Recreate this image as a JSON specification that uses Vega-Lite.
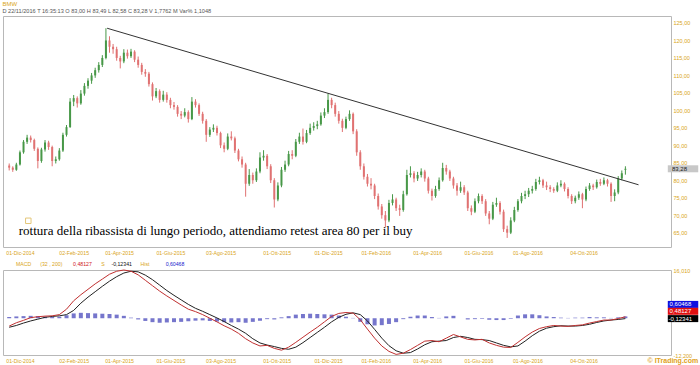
{
"$schema":"https://vega.github.io/schema/vega-lite/v6.json",
"background":"white",
"padding":{"left":2,"top":0,"right":0,"bottom":0},
"title":{"text":"BMW","subtitle":"D 22/11/2016   T 16:35:13   O 83,00   H 83,49   L 82,58   C 83,28   V 1,7762 M   Var% 1,1048","anchor":"start","fontSize":6,"fontWeight":"normal","font":"Liberation Sans","color":"#d9a520","subtitleFont":"Liberation Sans","subtitleFontSize":5.6,"subtitleColor":"#555555","subtitlePadding":2,"offset":1},
"spacing":5,
"datasets":{
"p":[
{"t":0,"o":84.2,"h":84.8,"l":82.8,"c":83.6},{"t":3,"o":83.6,"h":84.0,"l":82.4,"c":83.0},{"t":6,"o":83.0,"h":85.0,"l":82.7,"c":84.5},{"t":9,"o":84.5,"h":88.5,"l":84.2,"c":88.0},{"t":12,"o":88.0,"h":91.5,"l":87.6,"c":91.0},{"t":15,"o":91.0,"h":93.0,"l":90.4,"c":92.2},{"t":18,"o":92.2,"h":92.8,"l":90.8,"c":91.5},{"t":21,"o":91.5,"h":91.9,"l":88.4,"c":89.0},{"t":24,"o":89.0,"h":89.4,"l":83.4,"c":85.5},{"t":27,"o":85.5,"h":89.3,"l":85.0,"c":88.8},
{"t":30,"o":88.8,"h":91.5,"l":88.2,"c":90.8},{"t":33,"o":90.8,"h":91.3,"l":88.7,"c":89.5},{"t":36,"o":89.5,"h":89.9,"l":84.0,"c":85.5},{"t":39,"o":85.5,"h":86.8,"l":84.8,"c":86.0},{"t":42,"o":86.0,"h":89.2,"l":85.6,"c":88.5},{"t":45,"o":88.5,"h":93.6,"l":88.1,"c":93.0},{"t":48,"o":93.0,"h":95.8,"l":92.5,"c":95.2},{"t":51,"o":95.2,"h":103.5,"l":95.0,"c":102.5},{"t":54,"o":102.5,"h":104.4,"l":101.2,"c":103.5},{"t":57,"o":103.5,"h":104.0,"l":100.8,"c":102.0},
{"t":60,"o":102.0,"h":105.8,"l":101.6,"c":104.8},{"t":63,"o":104.8,"h":107.8,"l":104.2,"c":107.0},{"t":66,"o":107.0,"h":109.2,"l":106.2,"c":108.5},{"t":69,"o":108.5,"h":110.7,"l":107.6,"c":110.0},{"t":72,"o":110.0,"h":112.2,"l":109.3,"c":111.5},{"t":75,"o":111.5,"h":113.8,"l":110.8,"c":113.0},{"t":78,"o":113.0,"h":115.8,"l":112.4,"c":115.0},{"t":81,"o":115.0,"h":123.5,"l":114.6,"c":120.0},{"t":84,"o":120.0,"h":121.2,"l":116.5,"c":118.2},{"t":87,"o":118.2,"h":119.0,"l":116.2,"c":117.5},
{"t":90,"o":117.5,"h":118.2,"l":114.2,"c":115.0},{"t":93,"o":115.0,"h":115.6,"l":112.0,"c":114.0},{"t":96,"o":114.0,"h":117.5,"l":113.5,"c":116.5},{"t":99,"o":116.5,"h":117.4,"l":114.8,"c":115.5},{"t":102,"o":115.5,"h":117.6,"l":115.0,"c":116.8},{"t":105,"o":116.8,"h":117.2,"l":113.8,"c":114.5},{"t":108,"o":114.5,"h":115.4,"l":112.2,"c":113.0},{"t":111,"o":113.0,"h":113.6,"l":110.2,"c":111.0},{"t":114,"o":111.0,"h":111.8,"l":109.6,"c":110.5},{"t":117,"o":110.5,"h":111.0,"l":106.8,"c":107.5},
{"t":120,"o":107.5,"h":108.0,"l":102.8,"c":104.0},{"t":123,"o":104.0,"h":106.4,"l":103.5,"c":105.5},{"t":126,"o":105.5,"h":106.0,"l":102.2,"c":103.0},{"t":129,"o":103.0,"h":105.6,"l":102.5,"c":104.5},{"t":132,"o":104.5,"h":105.2,"l":102.2,"c":103.0},{"t":135,"o":103.0,"h":103.6,"l":100.6,"c":101.5},{"t":138,"o":101.5,"h":102.4,"l":100.2,"c":101.0},{"t":141,"o":101.0,"h":101.5,"l":98.2,"c":99.0},{"t":144,"o":99.0,"h":99.8,"l":97.5,"c":98.5},{"t":147,"o":98.5,"h":100.6,"l":98.0,"c":99.5},
{"t":150,"o":99.5,"h":100.0,"l":96.5,"c":97.5},{"t":153,"o":97.5,"h":103.8,"l":97.2,"c":102.5},{"t":156,"o":102.5,"h":103.2,"l":100.8,"c":101.5},{"t":159,"o":101.5,"h":102.0,"l":98.4,"c":99.0},{"t":162,"o":99.0,"h":99.6,"l":96.2,"c":97.0},{"t":165,"o":97.0,"h":97.5,"l":91.0,"c":93.0},{"t":168,"o":93.0,"h":95.2,"l":92.4,"c":94.5},{"t":171,"o":94.5,"h":96.0,"l":93.8,"c":95.0},{"t":174,"o":95.0,"h":95.6,"l":92.8,"c":93.5},{"t":177,"o":93.5,"h":93.9,"l":89.2,"c":90.0},
{"t":180,"o":90.0,"h":90.8,"l":88.0,"c":89.0},{"t":183,"o":89.0,"h":93.4,"l":88.6,"c":92.5},{"t":186,"o":92.5,"h":94.0,"l":91.4,"c":92.0},{"t":189,"o":92.0,"h":92.5,"l":87.8,"c":88.5},{"t":192,"o":88.5,"h":89.0,"l":85.4,"c":86.0},{"t":195,"o":86.0,"h":86.8,"l":83.6,"c":84.5},{"t":198,"o":84.5,"h":85.0,"l":75.3,"c":79.0},{"t":201,"o":79.0,"h":83.2,"l":78.4,"c":81.5},{"t":204,"o":81.5,"h":82.2,"l":79.0,"c":80.0},{"t":207,"o":80.0,"h":83.4,"l":79.5,"c":82.5},
{"t":210,"o":82.5,"h":88.0,"l":82.0,"c":86.5},{"t":213,"o":86.5,"h":88.6,"l":85.6,"c":87.0},{"t":216,"o":87.0,"h":87.5,"l":83.2,"c":84.0},{"t":219,"o":84.0,"h":84.6,"l":79.2,"c":80.0},{"t":222,"o":80.0,"h":80.6,"l":72.2,"c":74.5},{"t":225,"o":74.5,"h":79.4,"l":74.0,"c":78.5},{"t":228,"o":78.5,"h":83.8,"l":78.0,"c":83.0},{"t":231,"o":83.0,"h":85.6,"l":82.4,"c":84.5},{"t":234,"o":84.5,"h":88.4,"l":84.0,"c":87.5},{"t":237,"o":87.5,"h":88.6,"l":86.0,"c":87.0},
{"t":240,"o":87.0,"h":91.8,"l":86.6,"c":91.0},{"t":243,"o":91.0,"h":93.6,"l":90.4,"c":92.5},{"t":246,"o":92.5,"h":94.8,"l":90.2,"c":91.0},{"t":249,"o":91.0,"h":94.4,"l":90.6,"c":93.5},{"t":252,"o":93.5,"h":96.2,"l":93.0,"c":95.0},{"t":255,"o":95.0,"h":96.6,"l":94.2,"c":95.5},{"t":258,"o":95.5,"h":97.0,"l":94.6,"c":96.0},{"t":261,"o":96.0,"h":99.4,"l":95.6,"c":98.5},{"t":264,"o":98.5,"h":100.6,"l":97.8,"c":99.5},{"t":267,"o":99.5,"h":104.8,"l":99.0,"c":103.0},
{"t":270,"o":103.0,"h":103.6,"l":100.6,"c":101.5},{"t":273,"o":101.5,"h":102.2,"l":98.2,"c":99.0},{"t":276,"o":99.0,"h":99.8,"l":96.2,"c":97.0},{"t":279,"o":97.0,"h":97.6,"l":93.8,"c":95.0},{"t":282,"o":95.0,"h":98.2,"l":94.6,"c":97.5},{"t":285,"o":97.5,"h":100.0,"l":97.0,"c":99.0},{"t":288,"o":99.0,"h":99.4,"l":93.2,"c":94.0},{"t":291,"o":94.0,"h":94.6,"l":87.0,"c":88.0},{"t":294,"o":88.0,"h":88.6,"l":83.0,"c":84.0},{"t":297,"o":84.0,"h":84.8,"l":80.2,"c":81.0},
{"t":300,"o":81.0,"h":81.8,"l":78.2,"c":79.0},{"t":303,"o":79.0,"h":80.6,"l":77.4,"c":78.5},{"t":306,"o":78.5,"h":79.0,"l":74.6,"c":75.5},{"t":309,"o":75.5,"h":76.2,"l":71.6,"c":72.5},{"t":312,"o":72.5,"h":73.2,"l":69.0,"c":70.0},{"t":315,"o":70.0,"h":71.2,"l":66.5,"c":68.5},{"t":318,"o":68.5,"h":74.4,"l":68.0,"c":73.5},{"t":321,"o":73.5,"h":76.0,"l":72.8,"c":74.5},{"t":324,"o":74.5,"h":75.0,"l":71.2,"c":72.0},{"t":327,"o":72.0,"h":73.0,"l":69.8,"c":71.5},
{"t":330,"o":71.5,"h":77.0,"l":71.0,"c":76.0},{"t":333,"o":76.0,"h":83.0,"l":75.6,"c":81.5},{"t":336,"o":81.5,"h":84.0,"l":80.8,"c":82.0},{"t":339,"o":82.0,"h":82.6,"l":79.4,"c":80.5},{"t":342,"o":80.5,"h":82.4,"l":79.8,"c":81.5},{"t":345,"o":81.5,"h":83.4,"l":80.8,"c":82.5},{"t":348,"o":82.5,"h":83.0,"l":79.6,"c":80.5},{"t":351,"o":80.5,"h":81.0,"l":76.2,"c":77.0},{"t":354,"o":77.0,"h":77.6,"l":74.2,"c":75.5},{"t":357,"o":75.5,"h":78.4,"l":75.0,"c":77.5},
{"t":360,"o":77.5,"h":80.8,"l":77.0,"c":80.0},{"t":363,"o":80.0,"h":85.0,"l":79.6,"c":83.5},{"t":366,"o":83.5,"h":84.4,"l":81.6,"c":82.5},{"t":369,"o":82.5,"h":83.0,"l":79.8,"c":80.5},{"t":372,"o":80.5,"h":81.0,"l":77.6,"c":78.5},{"t":375,"o":78.5,"h":79.2,"l":75.6,"c":77.0},{"t":378,"o":77.0,"h":79.6,"l":76.4,"c":78.0},{"t":381,"o":78.0,"h":78.6,"l":75.8,"c":76.5},{"t":384,"o":76.5,"h":77.0,"l":71.2,"c":72.0},{"t":387,"o":72.0,"h":72.8,"l":70.0,"c":71.0},
{"t":390,"o":71.0,"h":74.8,"l":70.6,"c":74.0},{"t":393,"o":74.0,"h":76.2,"l":73.4,"c":75.5},{"t":396,"o":75.5,"h":76.0,"l":73.2,"c":74.0},{"t":399,"o":74.0,"h":74.6,"l":69.8,"c":70.5},{"t":402,"o":70.5,"h":71.2,"l":67.4,"c":69.0},{"t":405,"o":69.0,"h":73.8,"l":68.6,"c":73.0},{"t":408,"o":73.0,"h":75.0,"l":72.4,"c":73.5},{"t":411,"o":73.5,"h":74.0,"l":70.2,"c":71.0},{"t":414,"o":71.0,"h":71.6,"l":65.2,"c":66.0},{"t":417,"o":66.0,"h":67.0,"l":63.5,"c":65.0},
{"t":420,"o":65.0,"h":69.4,"l":64.6,"c":68.5},{"t":423,"o":68.5,"h":72.4,"l":68.0,"c":71.5},{"t":426,"o":71.5,"h":74.6,"l":71.0,"c":74.0},{"t":429,"o":74.0,"h":76.4,"l":73.4,"c":75.5},{"t":432,"o":75.5,"h":77.0,"l":74.6,"c":76.0},{"t":435,"o":76.0,"h":77.8,"l":75.2,"c":77.0},{"t":438,"o":77.0,"h":78.4,"l":76.2,"c":77.5},{"t":441,"o":77.5,"h":80.4,"l":77.0,"c":79.5},{"t":444,"o":79.5,"h":81.0,"l":78.8,"c":80.0},{"t":447,"o":80.0,"h":80.4,"l":77.8,"c":78.5},
{"t":450,"o":78.5,"h":79.6,"l":77.2,"c":78.0},{"t":453,"o":78.0,"h":78.6,"l":76.6,"c":77.5},{"t":456,"o":77.5,"h":78.0,"l":76.4,"c":77.0},{"t":459,"o":77.0,"h":79.4,"l":76.6,"c":78.5},{"t":462,"o":78.5,"h":80.0,"l":78.0,"c":79.0},{"t":465,"o":79.0,"h":79.4,"l":76.8,"c":77.5},{"t":468,"o":77.5,"h":78.0,"l":74.8,"c":75.5},{"t":471,"o":75.5,"h":76.0,"l":73.2,"c":74.0},{"t":474,"o":74.0,"h":75.6,"l":73.4,"c":75.0},{"t":477,"o":75.0,"h":76.8,"l":74.4,"c":76.0},
{"t":480,"o":76.0,"h":76.4,"l":72.0,"c":74.5},{"t":483,"o":74.5,"h":78.2,"l":74.0,"c":77.5},{"t":486,"o":77.5,"h":79.2,"l":77.0,"c":78.5},{"t":489,"o":78.5,"h":79.0,"l":77.2,"c":78.0},{"t":492,"o":78.0,"h":80.2,"l":77.6,"c":79.5},{"t":495,"o":79.5,"h":80.4,"l":78.4,"c":79.0},{"t":498,"o":79.0,"h":80.8,"l":78.6,"c":80.0},{"t":501,"o":80.0,"h":80.4,"l":78.2,"c":79.0},{"t":504,"o":79.0,"h":79.4,"l":73.8,"c":75.5},{"t":507,"o":75.5,"h":77.4,"l":74.0,"c":76.5},
{"t":510,"o":76.5,"h":81.2,"l":76.0,"c":80.5},{"t":513,"o":80.5,"h":82.8,"l":80.0,"c":82.0},{"t":516,"o":83.0,"h":84.0,"l":81.6,"c":83.28}
],
"m":[
{"t":0,"m":-2.6,"s":-3.0,"h":0.4},{"t":6,"m":-1.5,"s":-2.4,"h":0.6},{"t":12,"m":-0.7,"s":-1.6,"h":0.7},{"t":18,"m":0.2,"s":-0.9,"h":0.8},{"t":24,"m":0.5,"s":-0.3,"h":0.7},{"t":30,"m":0.7,"s":0.3,"h":0.5},{"t":36,"m":0.8,"s":0.6,"h":0.4},{"t":42,"m":1.2,"s":0.8,"h":0.5},{"t":48,"m":3.0,"s":1.2,"h":1.0},{"t":54,"m":5.8,"s":2.6,"h":1.6},
{"t":60,"m":7.8,"s":5.0,"h":1.8},{"t":66,"m":9.6,"s":7.0,"h":1.7},{"t":72,"m":11.4,"s":8.8,"h":1.6},{"t":78,"m":13.0,"s":10.6,"h":1.5},{"t":84,"m":14.6,"s":12.3,"h":1.4},{"t":90,"m":15.6,"s":13.8,"h":1.2},{"t":96,"m":16.0,"s":15.0,"h":0.8},{"t":102,"m":15.6,"s":15.6,"h":0.2},{"t":108,"m":14.4,"s":15.4,"h":-0.4},{"t":114,"m":12.6,"s":14.3,"h":-0.9},
{"t":120,"m":10.8,"s":12.8,"h":-1.3},{"t":126,"m":9.0,"s":11.0,"h":-1.5},{"t":132,"m":7.4,"s":9.2,"h":-1.4},{"t":138,"m":5.9,"s":7.6,"h":-1.3},{"t":144,"m":4.4,"s":6.1,"h":-1.2},{"t":150,"m":3.0,"s":4.6,"h":-1.0},{"t":156,"m":2.2,"s":3.3,"h":-0.8},{"t":162,"m":1.2,"s":2.3,"h":-0.7},{"t":168,"m":0.0,"s":1.2,"h":-0.9},{"t":174,"m":-1.2,"s":0.1,"h":-1.1},
{"t":180,"m":-2.5,"s":-1.1,"h":-1.3},{"t":186,"m":-3.6,"s":-2.4,"h":-1.4},{"t":192,"m":-5.0,"s":-3.6,"h":-1.3},{"t":198,"m":-6.8,"s":-5.0,"h":-1.5},{"t":204,"m":-8.2,"s":-6.8,"h":-1.2},{"t":210,"m":-9.2,"s":-8.2,"h":-0.8},{"t":216,"m":-9.0,"s":-8.9,"h":-0.3},{"t":222,"m":-10.0,"s":-9.4,"h":-0.4},{"t":228,"m":-10.6,"s":-10.0,"h":0.3},{"t":234,"m":-9.6,"s":-10.3,"h":0.7},
{"t":240,"m":-8.0,"s":-9.6,"h":1.2},{"t":246,"m":-6.3,"s":-8.1,"h":1.4},{"t":252,"m":-4.6,"s":-6.4,"h":1.5},{"t":258,"m":-3.0,"s":-4.7,"h":1.4},{"t":264,"m":-1.2,"s":-3.0,"h":1.3},{"t":270,"m":0.6,"s":-1.2,"h":1.2},{"t":276,"m":1.6,"s":0.3,"h":0.9},{"t":282,"m":1.9,"s":1.3,"h":0.5},{"t":288,"m":1.7,"s":1.8,"h":0.1},{"t":294,"m":-0.5,"s":1.2,"h":-1.2},
{"t":300,"m":-3.6,"s":-0.9,"h":-2.0},{"t":306,"m":-6.6,"s":-3.7,"h":-2.4},{"t":312,"m":-9.2,"s":-6.6,"h":-2.3},{"t":318,"m":-11.0,"s":-9.1,"h":-1.9},{"t":324,"m":-12.0,"s":-10.8,"h":-1.3},{"t":330,"m":-11.6,"s":-11.6,"h":-0.3},{"t":336,"m":-10.4,"s":-11.4,"h":0.5},{"t":342,"m":-9.0,"s":-10.2,"h":0.9},{"t":348,"m":-7.6,"s":-8.8,"h":0.9},{"t":354,"m":-7.4,"s":-7.8,"h":0.4},
{"t":360,"m":-7.8,"s":-7.6,"h":0.1},{"t":366,"m":-6.6,"s":-7.4,"h":0.6},{"t":372,"m":-5.4,"s":-6.4,"h":0.8},{"t":378,"m":-6.2,"s":-6.0,"h":0.0},{"t":384,"m":-7.0,"s":-6.4,"h":-0.4},{"t":390,"m":-7.2,"s":-7.0,"h":-0.3},{"t":396,"m":-7.0,"s":-7.1,"h":-0.2},{"t":402,"m":-8.2,"s":-7.4,"h":-0.5},{"t":408,"m":-9.0,"s":-8.2,"h":-0.6},{"t":414,"m":-9.6,"s":-9.0,"h":-0.6},
{"t":420,"m":-9.7,"s":-9.5,"h":-0.2},{"t":426,"m":-8.0,"s":-9.2,"h":0.9},{"t":432,"m":-6.2,"s":-7.6,"h":1.3},{"t":438,"m":-4.6,"s":-5.8,"h":1.3},{"t":444,"m":-3.4,"s":-4.3,"h":1.0},{"t":450,"m":-2.8,"s":-3.3,"h":0.6},{"t":456,"m":-2.4,"s":-2.8,"h":0.4},{"t":462,"m":-2.6,"s":-2.5,"h":0.2},{"t":468,"m":-2.7,"s":-2.6,"h":0.1},{"t":474,"m":-2.4,"s":-2.6,"h":0.2},
{"t":480,"m":-2.2,"s":-2.4,"h":0.2},{"t":486,"m":-1.6,"s":-2.0,"h":0.4},{"t":492,"m":-1.1,"s":-1.4,"h":0.3},{"t":498,"m":-0.6,"s":-0.9,"h":0.3},{"t":504,"m":-0.6,"s":-0.6,"h":0.1},{"t":510,"m":-0.1,"s":-0.4,"h":0.3},{"t":516,"m":0.48127,"s":-0.12341,"h":0.60468}
]
},
"vconcat":[
{
"width":668,"height":231,
"layer":[
{"data":{"name":"p"},"mark":{"type":"rule","strokeWidth":1},
"encoding":{
"x":{"field":"t","type":"quantitative","scale":{"domain":[-1,550],"nice":false,"zero":false},"axis":{"title":null,"values":[9,54,92,135,177,224,267,307,350,393,434,481],"tickCount":30,"labelExpr":"['01-Dic-2014','02-Feb-2015','01-Apr-2015','01-Giu-2015','03-Ago-2015','01-Ott-2015','01-Dic-2015','01-Feb-2016','01-Apr-2016','01-Giu-2016','01-Ago-2016','04-Ott-2016'][indexof([9,54,92,135,177,224,267,307,350,393,434,481], datum.value)]","labelPadding":3,"labelFontSize":5.2,"labelOverlap":false,"labelFlush":false}},
"y":{"field":"l","type":"quantitative","scale":{"domain":[60.9,127],"nice":false,"zero":false},"axis":{"title":null,"orient":"right","values":[65,70,75,80,85,90,95,100,105,110,115,120,125],"tickCount":30,"labelExpr":"replace(format(datum.value,'.2f'),'.',',')","labelAlign":"left","labelPadding":2,"labelFontSize":5.5,"labelOverlap":false,"labelFlush":false}},
"y2":{"field":"h"},
"color":{"condition":{"test":"datum.c >= datum.o","value":"#489848"},"value":"#e07272"}
}},
{"data":{"name":"p"},"mark":{"type":"bar","size":2},
"encoding":{
"x":{"field":"t","type":"quantitative"},
"y":{"field":"o","type":"quantitative"},
"y2":{"field":"c"},
"color":{"condition":{"test":"datum.c >= datum.o","value":"#489848"},"value":"#e07272"}
}},
{"data":{"values":[{"t":82,"v":123.5},{"t":527,"v":78.7}]},"mark":{"type":"line","color":"#333333","strokeWidth":1},
"encoding":{"x":{"field":"t","type":"quantitative"},"y":{"field":"v","type":"quantitative"}}},
{"data":{"values":[{}]},"mark":{"type":"point","shape":"square","filled":false,"color":"#d9b040","size":30,"strokeWidth":1},
"encoding":{"x":{"datum":16},"y":{"datum":68.4}}},
{"data":{"values":[{}]},"mark":{"type":"text","align":"left","baseline":"alphabetic","font":"Liberation Serif","fontSize":13,"color":"#000000","text":"rottura della ribassista di lungo periodo, attendiamo retest area 80 per il buy"},
"encoding":{"x":{"datum":8},"y":{"datum":64.2}}},
{"data":{"values":[{"v":83.28,"txt":"83,28"}]},"mark":{"type":"rect","color":"#c8c8c8","yOffset":-3.5,"y2Offset":3.5},
"encoding":{"x":{"datum":551.5},"x2":{"datum":577},"y":{"field":"v","type":"quantitative"},"y2":{"field":"v"}}},
{"data":{"values":[{"v":83.28,"txt":"83,28"}]},"mark":{"type":"text","align":"left","baseline":"middle","fontSize":6,"color":"#222222","font":"Liberation Sans"},
"encoding":{"x":{"datum":555},"y":{"field":"v","type":"quantitative"},"text":{"field":"txt"}}}
]
},
{
"width":668,"height":85,
"layer":[
{"data":{"name":"m"},"mark":{"type":"bar","size":4,"color":"#7676cc"},
"encoding":{
"x":{"field":"t","type":"quantitative","scale":{"domain":[-1,550],"nice":false,"zero":false},"axis":{"title":null,"values":[9,54,92,135,177,224,267,307,350,393,434,481],"tickCount":30,"labelExpr":"['01-Dic-2014','02-Feb-2015','01-Apr-2015','01-Giu-2015','03-Ago-2015','01-Ott-2015','01-Dic-2015','01-Feb-2016','01-Apr-2016','01-Giu-2016','01-Ago-2016','04-Ott-2016'][indexof([9,54,92,135,177,224,267,307,350,393,434,481], datum.value)]","labelPadding":3,"labelFontSize":5.2,"labelOverlap":false,"labelFlush":false}},
"y":{"field":"h","type":"quantitative","scale":{"domain":[-12.2,16.01],"nice":false,"zero":false},"axis":{"title":null,"orient":"right","values":[16.01,-12.2],"tickCount":10,"labelExpr":"datum.value > 0 ? '16,010' : '-12,200'","labelAlign":"left","labelPadding":2,"labelFontSize":5.5,"labelOverlap":false,"labelFlush":false}},
"y2":{"datum":0}
}},
{"data":{"name":"m"},"mark":{"type":"line","color":"#222222","strokeWidth":1},
"encoding":{"x":{"field":"t","type":"quantitative"},"y":{"field":"s","type":"quantitative"}}},
{"data":{"name":"m"},"mark":{"type":"line","color":"#c03030","strokeWidth":1},
"encoding":{"x":{"field":"t","type":"quantitative"},"y":{"field":"m","type":"quantitative"}}},
{"data":{"values":[{}]},"mark":{"type":"text","align":"left","baseline":"middle","dy":-6,"fontSize":5.2,"color":"#d9a520","font":"Liberation Sans","text":"MACD"},
"encoding":{"x":{"datum":5.6},"y":{"datum":16.01}}},
{"data":{"values":[{}]},"mark":{"type":"text","align":"left","baseline":"middle","dy":-6,"fontSize":5.2,"color":"#d9a520","font":"Liberation Sans","text":"(32 , 200)"},
"encoding":{"x":{"datum":26},"y":{"datum":16.01}}},
{"data":{"values":[{}]},"mark":{"type":"text","align":"left","baseline":"middle","dy":-6,"fontSize":5.2,"color":"#d02020","font":"Liberation Sans","text":"0,48127"},
"encoding":{"x":{"datum":53.5},"y":{"datum":16.01}}},
{"data":{"values":[{}]},"mark":{"type":"text","align":"left","baseline":"middle","dy":-6,"fontSize":5.2,"color":"#d9a520","font":"Liberation Sans","text":"S"},
"encoding":{"x":{"datum":77},"y":{"datum":16.01}}},
{"data":{"values":[{}]},"mark":{"type":"text","align":"left","baseline":"middle","dy":-6,"fontSize":5.2,"color":"#111111","font":"Liberation Sans","text":"-0,12341"},
"encoding":{"x":{"datum":85.6},"y":{"datum":16.01}}},
{"data":{"values":[{}]},"mark":{"type":"text","align":"left","baseline":"middle","dy":-6,"fontSize":5.2,"color":"#d9a520","font":"Liberation Sans","text":"Hist"},
"encoding":{"x":{"datum":110},"y":{"datum":16.01}}},
{"data":{"values":[{}]},"mark":{"type":"text","align":"left","baseline":"middle","dy":-6,"fontSize":5.2,"color":"#2222cc","font":"Liberation Sans","text":"0,60468"},
"encoding":{"x":{"datum":131},"y":{"datum":16.01}}},
{"data":{"values":[{"v":0.60468,"txt":"0,60468"}]},"mark":{"type":"rect","color":"#1010e0","yOffset":-15.5,"y2Offset":-8.5},
"encoding":{"x":{"datum":551.5},"x2":{"datum":577},"y":{"field":"v","type":"quantitative"},"y2":{"field":"v"}}},
{"data":{"values":[{"v":0.60468,"txt":"0,60468"}]},"mark":{"type":"text","align":"left","baseline":"middle","fontSize":6,"color":"white","dy":-12,"font":"Liberation Sans"},
"encoding":{"x":{"datum":553},"y":{"field":"v","type":"quantitative"},"text":{"field":"txt"}}},
{"data":{"values":[{"v":0.48127,"txt":"0,48127"}]},"mark":{"type":"rect","color":"#e01010","yOffset":-9,"y2Offset":-2},
"encoding":{"x":{"datum":551.5},"x2":{"datum":577},"y":{"field":"v","type":"quantitative"},"y2":{"field":"v"}}},
{"data":{"values":[{"v":0.48127,"txt":"0,48127"}]},"mark":{"type":"text","align":"left","baseline":"middle","fontSize":6,"color":"white","dy":-5.5,"font":"Liberation Sans"},
"encoding":{"x":{"datum":553},"y":{"field":"v","type":"quantitative"},"text":{"field":"txt"}}},
{"data":{"values":[{"v":-0.12341,"txt":"-0,12341"}]},"mark":{"type":"rect","color":"#000000","yOffset":-3.5,"y2Offset":3.5},
"encoding":{"x":{"datum":551.5},"x2":{"datum":577},"y":{"field":"v","type":"quantitative"},"y2":{"field":"v"}}},
{"data":{"values":[{"v":-0.12341,"txt":"-0,12341"}]},"mark":{"type":"text","align":"left","baseline":"middle","fontSize":6,"color":"white","font":"Liberation Sans"},
"encoding":{"x":{"datum":552},"y":{"field":"v","type":"quantitative"},"text":{"field":"txt"}}},
{"data":{"values":[{}]},"mark":{"type":"text","align":"right","baseline":"top","dy":2,"fontSize":7,"fontWeight":"bold","color":"#e0a020","font":"Liberation Sans","text":"© ITrading.com"},
"encoding":{"x":{"datum":577},"y":{"datum":-12.2}}}
]
}
],
"config":{
"view":{"stroke":"#b8b8b8","strokeWidth":1},
"axis":{"grid":false,"ticks":false,"domain":false,"labelColor":"#d9a520","labelFontSize":6,"labelFont":"Liberation Sans","labelOverlap":false}
}
}
